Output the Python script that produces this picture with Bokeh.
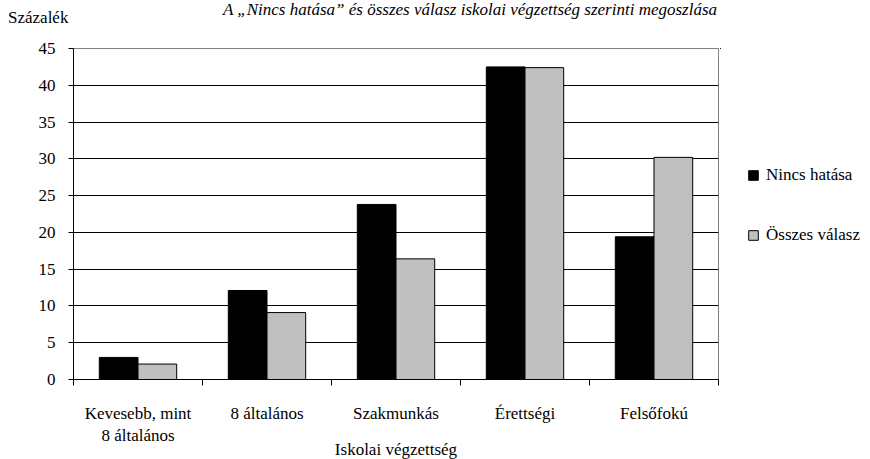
from bokeh.plotting import figure
from bokeh.models import (ColumnDataSource, Range1d, FixedTicker, Legend,
                          LegendItem, Div)
from bokeh.layouts import column, row
from bokeh.transform import dodge
from bokeh.embed import file_html
from bokeh.resources import INLINE

# ---- data ----
categories = ["Kevesebb, mint\n8 általános", "8 általános", "Szakmunkás", "Érettségi", "Felsőfokú"]
nincs_hatasa = [3.0, 12.1, 23.8, 42.5, 19.4]
osszes_valasz = [2.1, 9.1, 16.4, 42.4, 30.2]
series_names = ["Nincs hatása", "Összes válasz"]
series_colors = ["#000000", "#C0C0C0"]
y_ticks = [0, 5, 10, 15, 20, 25, 30, 35, 40, 45]
title_text = "A \u201eNincs hatása\u201d és összes válasz iskolai végzettség szerinti megoszlása"
y_title = "Százalék"
x_title = "Iskolai végzettség"

FONT = "Liberation Serif"
FS = "17px"

n = len(categories)
centers = [i + 0.5 for i in range(n)]
src = ColumnDataSource(dict(x=centers, a=nincs_hatasa, b=osszes_valasz))

p = figure(frame_width=645, frame_height=331, output_backend="svg", toolbar_location=None,
           x_range=Range1d(0, n), y_range=Range1d(0, 45),
           min_border_left=73, min_border_right=2,
           min_border_top=12, min_border_bottom=76)
p.background_fill_color = "white"
p.border_fill_color = "white"
p.outline_line_color = "#808080"
p.outline_line_width = 1

p.vbar(x=dodge("x", -0.15, range=p.x_range), top="a", width=0.3, source=src,
       fill_color=series_colors[0], line_color="#000000", line_width=1)
p.vbar(x=dodge("x", 0.15, range=p.x_range), top="b", width=0.3, source=src,
       fill_color=series_colors[1], line_color="#000000", line_width=1)

# grid
p.xgrid.visible = False
p.ygrid.ticker = FixedTicker(ticks=y_ticks[1:-1])
p.ygrid.grid_line_color = "#000000"
p.ygrid.grid_line_width = 1

# y axis
yax = p.yaxis[0]
yax.ticker = FixedTicker(ticks=y_ticks)
yax.minor_tick_line_color = None
yax.major_tick_in = 0
yax.major_tick_out = 5
yax.axis_line_color = "#000000"
yax.major_tick_line_color = "#000000"
yax.major_label_text_font = FONT
yax.major_label_text_font_size = FS
yax.major_label_text_color = "#000000"
yax.major_label_standoff = 13

# x axis: labels at category centers, ticks (minor) at boundaries
xax = p.xaxis[0]
xax.ticker = FixedTicker(ticks=centers, minor_ticks=list(range(n + 1)))
xax.major_label_overrides = {c: lab for c, lab in zip(centers, categories)}
xax.major_tick_in = 0
xax.major_tick_out = 0
xax.major_tick_line_color = None
xax.minor_tick_in = 0
xax.minor_tick_out = 6
xax.minor_tick_line_color = "#000000"
xax.axis_line_color = "#000000"
xax.major_label_text_font = FONT
xax.major_label_text_font_size = FS
xax.major_label_text_color = "#000000"
xax.major_label_standoff = 18
xax.axis_label = x_title
xax.axis_label_text_font = FONT
xax.axis_label_text_font_size = FS
xax.axis_label_text_font_style = "normal"
xax.axis_label_text_color = "#000000"
xax.axis_label_standoff = -8

# legend in a small side figure (its bar renderers lie entirely outside its view)
lg = figure(width=148, height=419, output_backend="svg", toolbar_location=None,
            x_range=Range1d(n + 10, n + 20), y_range=Range1d(-20, -10), min_border=0)
lg.axis.visible = False
lg.grid.visible = False
lg.outline_line_color = None
lg.background_fill_color = "white"
lg.border_fill_color = "white"
d1 = lg.vbar(x="x", top="a", width=0.3, source=src,
             fill_color=series_colors[0], line_color="#000000", line_width=1)
d2 = lg.vbar(x="x", top="b", width=0.3, source=src,
             fill_color=series_colors[1], line_color="#000000", line_width=1)
legend = Legend(items=[LegendItem(label=series_names[0], renderers=[d1]),
                       LegendItem(label=series_names[1], renderers=[d2])],
                location=(27, 127), orientation="vertical",
                glyph_width=12, glyph_height=12, label_standoff=7,
                label_text_font=FONT, label_text_font_size=FS,
                label_text_color="#000000", spacing=40, padding=0, margin=0,
                border_line_color=None, background_fill_alpha=0)
lg.add_layout(legend)

header = Div(width=868, height=36, margin=0, styles={"overflow": "visible"}, text=(
    '<div style="position:relative;width:868px;height:36px;margin:0;padding:0;'
    'font-family:\'Liberation Serif\';font-size:17px;line-height:20px;color:#000;white-space:nowrap">'
    '<span style="position:absolute;left:8px;top:8px">' + y_title + '</span>'
    '<span style="position:absolute;left:0px;top:0px;width:940px;text-align:center;font-style:italic">'
    + title_text + '</span></div>'))

layout = column(header, row(p, lg, spacing=0), spacing=0)
open("out.html", "w").write(file_html(layout, INLINE))
